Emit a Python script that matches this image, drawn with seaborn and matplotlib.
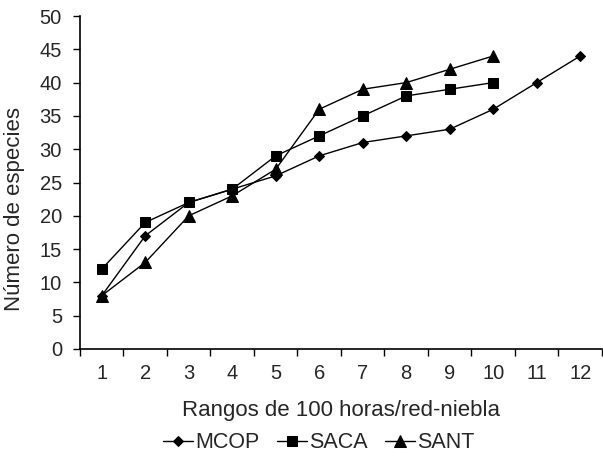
import numpy as np
import pandas as pd
import matplotlib
matplotlib.use("Agg")
import matplotlib.pyplot as plt
import seaborn as sns

# =====================================================
# Données
# =====================================================

rangos = list(range(1, 13))

mcop = [8, 17, 22, 24, 26, 29, 31, 32, 33, 36, 40, 44]
saca = [12, 19, 22, 24, 29, 32, 35, 38, 39, 40]
sant = [8, 13, 20, 23, 27, 36, 39, 40, 42, 44]

series = ["MCOP", "SACA", "SANT"]
marcadores = {"MCOP": "D", "SACA": "s", "SANT": "^"}
tailles = {"MCOP": 5.5, "SACA": 7.5, "SANT": 8}

df = pd.concat([
    pd.DataFrame({"rango": rangos[:len(mcop)], "especies": mcop, "sitio": "MCOP"}),
    pd.DataFrame({"rango": rangos[:len(saca)], "especies": saca, "sitio": "SACA"}),
    pd.DataFrame({"rango": rangos[:len(sant)], "especies": sant, "sitio": "SANT"}),
])

# =====================================================
# Figure
# =====================================================

sns.set_style("white")
plt.rcParams["font.family"] = ["Liberation Sans", "DejaVu Sans"]

fig = plt.figure(figsize=(6.03, 4.57), dpi=100)
ax = fig.add_axes([80 / 603, 1 - 349 / 457, 522 / 603, 333 / 457])

for s in series:
    d = df[df["sitio"] == s]
    sns.lineplot(
        data=d, x="rango", y="especies", ax=ax,
        color="black", linewidth=1.0,
        marker=marcadores[s], markersize=tailles[s],
        markeredgecolor="black", markerfacecolor="black",
        label=s,
    )

# =====================================================
# Axes
# =====================================================

ax.set_xlim(0.5, 12.5)
ax.set_ylim(0, 50)
ax.set_yticks(np.arange(0, 51, 5))
ax.set_xticks(np.arange(0.5, 12.6, 1))
ax.set_xticklabels([])
ax.set_xticks(rangos, minor=True)
ax.set_xticklabels([str(r) for r in rangos], minor=True, fontsize=14.5)
ax.tick_params(axis="x", which="minor", length=0, pad=11)
ax.tick_params(axis="x", which="major", direction="out", length=5, width=1, color="black", bottom=True)
ax.tick_params(axis="y", direction="out", length=5, width=1, color="black", left=True, labelsize=14.5, pad=8)

for side in ["top", "right"]:
    ax.spines[side].set_visible(False)
for side in ["left", "bottom"]:
    ax.spines[side].set_color("black")
    ax.spines[side].set_linewidth(1.2)

ax.set_xlabel("Rangos de 100 horas/red-niebla", fontsize=16)
ax.xaxis.set_label_coords(0.5, -0.152)
ax.set_ylabel("Número de especies", fontsize=16)
ax.yaxis.set_label_coords(-0.105, 0.42)

ax.legend(
    loc="center", bbox_to_anchor=(319 / 603, 1 - 443 / 457),
    bbox_transform=fig.transFigure,
    ncol=3, frameon=False, fontsize=15.5,
    handlelength=1.4, handletextpad=0.1, columnspacing=0.8,
    borderpad=0, borderaxespad=0,
)

fig.savefig("out.png", dpi=100)
